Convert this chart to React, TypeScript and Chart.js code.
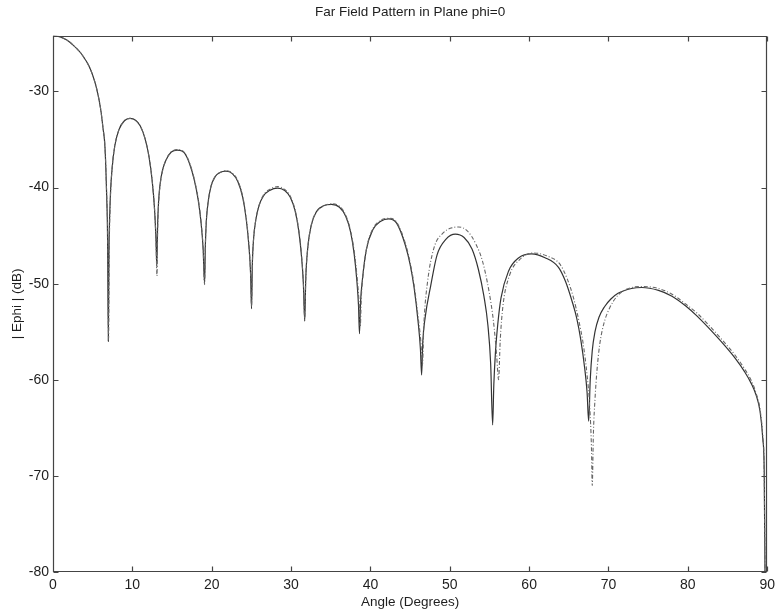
import React, { useEffect, useRef } from "react";
import { Chart, registerables } from "chart.js";

Chart.register(...registerables);

const TITLE = "Far Field Pattern in Plane phi=0";
const X_LABEL = "Angle (Degrees)";
const Y_LABEL = "| Ephi | (dB)";

const xTicks = [0, 10, 20, 30, 40, 50, 60, 70, 80, 90];
const yTicks = [-80, -70, -60, -50, -40, -30];
const X_MIN = 0;
const X_MAX = 90;
const Y_MIN = -80;
const Y_MAX = -24.2;

// Solid curve (angle in degrees, |Ephi| in dB)
const solidAngles = [
  0, 0.5, 1.0, 1.5, 2.0, 2.5, 3.0, 3.5, 4.0, 4.5, 5.0, 5.5, 6.0, 6.3, 6.55, 6.75, 6.88, 6.97,
  7.05, 7.2, 7.45, 7.8, 8.3, 9.0, 9.7, 10.4, 11.0, 11.6, 12.1, 12.5, 12.8, 12.98, 13.08,
  13.18, 13.3, 13.5, 13.8, 14.2, 14.9, 15.7, 16.5, 17.2, 17.8, 18.3, 18.65, 18.92, 19.1,
  19.2, 19.32, 19.55, 19.9, 20.4, 21.0, 21.8, 22.6, 23.3, 23.9, 24.35, 24.7, 24.9, 25.02,
  25.12, 25.28, 25.55, 25.95, 26.5, 27.3, 28.3, 29.2, 29.9, 30.5, 30.95, 31.3, 31.55, 31.72,
  31.85, 32.1, 32.55, 33.2, 34.1, 35.1, 36.1, 36.9, 37.5, 37.95, 38.3, 38.5, 38.62,
  38.75, 39.0, 39.5, 40.3, 41.3, 42.3, 43.3, 44.4, 45.0, 45.5, 46.0, 46.3, 46.45,
  46.6, 46.9, 47.6, 48.4, 49.5, 50.7, 51.8, 52.8, 53.6, 54.3, 54.8, 55.15, 55.4,
  55.55, 55.75, 56.05, 56.45, 57.4, 58.7, 60.3, 62.0, 63.7, 64.6, 65.4, 66.0, 66.5, 67.0, 67.3, 67.5,
  67.7, 67.95, 68.3, 68.8, 69.5, 70.3, 71.2, 72.9, 74.2, 76.3, 78.0, 79.7, 81.2, 82.5, 84.6, 86.0, 87.1, 88.0, 88.6, 89.1, 89.45, 89.62, 89.72,
];
const solidDb = [
  -24.2, -24.25, -24.35, -24.55, -24.8, -25.15, -25.55, -26.0, -26.6, -27.3, -28.3, -29.7, -31.8, -33.8, -35.8, -40.5, -45.5, -56.0,
  -47.0, -41.5, -38.0, -35.6, -34.0, -33.05, -32.8, -33.0, -33.6, -34.9, -36.8, -39.3, -42.3, -45.5, -48.2,
  -44.0, -41.5, -39.6, -38.2, -37.2, -36.3, -36.1, -36.35, -37.5, -39.2, -41.3, -43.6, -46.4, -50.0,
  -46.0, -43.5, -41.5, -39.9, -38.9, -38.45, -38.3, -38.55, -39.4, -41.0, -43.3, -46.2, -49.0, -52.6,
  -48.0, -45.3, -43.4, -41.9, -40.9, -40.3, -40.05, -40.3, -41.0, -42.4, -44.4, -47.0, -50.0, -53.9,
  -49.5, -46.3, -43.9, -42.5, -41.9, -41.75, -42.05, -43.0, -44.6, -46.9, -49.8, -52.3, -55.2,
  -52.0, -49.5, -46.4, -44.4, -43.5, -43.25, -43.7, -46.0, -48.0, -50.4, -53.9, -56.8, -59.5,
  -56.0, -53.5, -50.2, -47.0, -45.4, -44.85, -45.2, -46.4, -48.5, -51.3, -54.3, -58.3, -64.7,
  -60.5, -57.2, -54.2, -51.5, -48.7, -47.3, -46.9, -47.3, -48.3, -49.8, -51.8, -53.6, -55.8, -58.8, -61.3, -64.3,
  -60.0, -57.0, -55.0, -53.5, -52.4, -51.6, -51.0, -50.5, -50.4, -50.7, -51.3, -52.3, -53.4, -54.5, -56.4, -57.8, -59.1, -60.4, -61.6, -63.3, -66.2, -69.5, -80.0,
];

// Dash-dot curve (angle in degrees, |Ephi| in dB)
const dashAngles = [
  0, 0.5, 1.0, 1.5, 2.0, 2.5, 3.0, 3.5, 4.0, 4.5, 5.0, 5.5, 6.0, 6.3, 6.55, 6.75, 6.9, 7.0,
  7.08, 7.22, 7.45, 7.8, 8.3, 9.0, 9.7, 10.4, 11.0, 11.6, 12.1, 12.5, 12.8, 12.98, 13.1,
  13.2, 13.32, 13.52, 13.82, 14.2, 14.9, 15.7, 16.5, 17.2, 17.8, 18.3, 18.65, 18.92, 19.1,
  19.2, 19.32, 19.55, 19.9, 20.4, 21.0, 21.8, 22.6, 23.3, 23.9, 24.35, 24.7, 24.9, 25.02,
  25.12, 25.28, 25.55, 25.95, 26.5, 27.3, 28.3, 29.2, 29.9, 30.5, 30.95, 31.3, 31.55, 31.72,
  31.85, 32.1, 32.55, 33.2, 34.1, 35.1, 36.1, 36.9, 37.5, 38.0, 38.35, 38.57, 38.72,
  38.85, 39.1, 39.6, 40.3, 41.3, 42.3, 43.3, 44.4, 45.0, 45.5, 46.0, 46.35, 46.55,
  46.75, 47.2, 48.0, 49.2, 50.2, 51.1, 52.2, 53.3, 54.1, 54.9, 55.5, 55.9, 56.15,
  56.35, 56.7, 57.5, 58.8, 60.5, 62.2, 63.9, 64.8, 65.6, 66.3, 66.8, 67.3, 67.65, 67.85, 67.95,
  68.1, 68.3, 68.55, 68.9, 69.4, 70.1, 71.2, 72.9, 74.4, 76.3, 78.0, 79.7, 81.2, 82.5, 84.6, 86.0, 87.1, 88.0, 88.6, 89.1, 89.45, 89.62, 89.72,
];
const dashDb = [
  -24.2, -24.25, -24.35, -24.55, -24.8, -25.15, -25.55, -26.0, -26.6, -27.3, -28.3, -29.7, -31.8, -33.8, -35.8, -40.3, -45.5, -55.8,
  -47.0, -41.5, -38.0, -35.6, -34.0, -33.05, -32.8, -33.0, -33.6, -34.9, -36.8, -39.3, -42.3, -45.5, -49.2,
  -44.0, -41.5, -39.6, -38.2, -37.2, -36.3, -36.05, -36.3, -37.4, -39.1, -41.2, -43.5, -46.3, -50.1,
  -46.0, -43.5, -41.5, -39.9, -38.9, -38.45, -38.25, -38.5, -39.3, -40.9, -43.2, -46.1, -48.9, -52.4,
  -48.0, -45.3, -43.4, -41.9, -40.8, -40.2, -39.9, -40.2, -40.9, -42.3, -44.3, -46.9, -49.9, -53.6,
  -49.5, -46.3, -43.9, -42.5, -41.9, -41.7, -41.95, -42.9, -44.5, -46.9, -49.6, -52.0, -54.5,
  -51.5, -48.8, -46.0, -44.3, -43.4, -43.2, -43.6, -45.8, -47.8, -50.1, -53.4, -56.0, -58.5,
  -54.0, -49.8, -46.3, -44.7, -44.2, -44.1, -44.5, -45.9, -47.6, -50.6, -53.9, -57.4, -60.0,
  -56.0, -52.3, -49.2, -47.5, -46.8, -47.1, -48.0, -49.5, -51.5, -54.0, -56.2, -59.5, -63.0, -67.0, -71.0,
  -65.5, -62.0, -59.0, -56.3, -54.2, -52.6, -51.2, -50.4, -50.3, -50.5, -51.1, -52.1, -53.1, -54.2, -56.1, -57.5, -58.8, -60.1, -61.4, -63.1, -66.0, -69.5, -80.0,
];

const FONT = "'Liberation Sans', Arial, Helvetica, sans-serif";
const INK = "#1e1e1e";

const framePlugin = {
  id: "matlabFrame",
  afterDatasetsDraw(chart: any) {
    const { ctx, chartArea: a, scales } = chart;
    const xs = scales.x;
    const ys = scales.y;
    const L = Math.round(a.left) + 0.5;
    const R = Math.round(a.right) - 0.5;
    const T = Math.round(a.top) + 0.5;
    const B = Math.round(a.bottom) - 0.5;
    const len = 5;
    ctx.save();
    ctx.strokeStyle = "#444";
    ctx.lineWidth = 1.2;
    ctx.beginPath();
    ctx.rect(L, T, R - L, B - T);
    xTicks.forEach((v) => {
      const px = Math.round(xs.getPixelForValue(v)) + 0.5;
      ctx.moveTo(px, B);
      ctx.lineTo(px, B - len);
      ctx.moveTo(px, T);
      ctx.lineTo(px, T + len);
    });
    yTicks.forEach((v) => {
      const py = Math.round(ys.getPixelForValue(v)) + 0.5;
      ctx.moveTo(L, py);
      ctx.lineTo(L + len, py);
      ctx.moveTo(R, py);
      ctx.lineTo(R - len, py);
    });
    ctx.stroke();
    ctx.restore();
  },
};

export default function App() {
  const canvasRef = useRef<HTMLCanvasElement | null>(null);

  useEffect(() => {
    if (!canvasRef.current) return;
    const solid = solidAngles.map((a, i) => ({ x: a, y: solidDb[i] }));
    const dash = dashAngles.map((a, i) => ({ x: a, y: dashDb[i] }));
    const chart = new Chart(canvasRef.current, {
      type: "line",
      data: {
        datasets: [
          {
            label: "dash",
            data: dash,
            borderColor: "#666",
            borderWidth: 1.1,
            borderDash: [4, 2, 1, 2],
            pointRadius: 0,
            cubicInterpolationMode: "monotone",
            fill: false,
          },
          {
            label: "solid",
            data: solid,
            borderColor: "#333",
            borderWidth: 1.2,
            pointRadius: 0,
            cubicInterpolationMode: "monotone",
            fill: false,
          },
        ],
      },
      options: {
        animation: false,
        responsive: false,
        maintainAspectRatio: false,
        devicePixelRatio: 1,
        layout: { padding: { left: 0, right: 11, top: 0, bottom: 0 } },
        plugins: {
          legend: { display: false },
          tooltip: { enabled: false },
          title: {
            display: true,
            fullSize: false,
            text: TITLE,
            color: INK,
            font: { family: FONT, size: 13.5, weight: "normal" },
            padding: { top: 4, bottom: 15.5 },
          },
        },
        scales: {
          x: {
            type: "linear",
            min: X_MIN,
            max: X_MAX,
            grid: { display: false, drawTicks: false },
            border: { display: false },
            ticks: { padding: 5, color: INK, font: { family: FONT, size: 14 }, maxRotation: 0, autoSkip: false },
            afterBuildTicks: (s: any) => {
              s.ticks = xTicks.map((v) => ({ value: v }));
            },
            afterFit: (s: any) => {
              s.height = 40;
            },
            title: {
              display: true,
              text: X_LABEL,
              color: INK,
              font: { family: FONT, size: 13.5 },
              padding: { top: 0, bottom: 2 },
            },
          },
          y: {
            type: "linear",
            min: Y_MIN,
            max: Y_MAX,
            grid: { display: false, drawTicks: false },
            border: { display: false },
            ticks: { padding: 4, color: INK, font: { family: FONT, size: 14 }, autoSkip: false },
            afterBuildTicks: (s: any) => {
              s.ticks = yTicks.map((v) => ({ value: v }));
            },
            afterFit: (s: any) => {
              s.width = 53;
            },
            title: {
              display: true,
              text: Y_LABEL,
              color: INK,
              font: { family: FONT, size: 13.5 },
              padding: { top: 9, bottom: 0 },
            },
          },
        },
      },
      plugins: [framePlugin],
    });
    return () => chart.destroy();
  }, []);

  return (
    <div style={{ position: "fixed", left: 0, top: 0, width: 780, height: 612, background: "#fff" }}>
      <canvas ref={canvasRef} width={780} height={612} style={{ display: "block" }} />
    </div>
  );
}
